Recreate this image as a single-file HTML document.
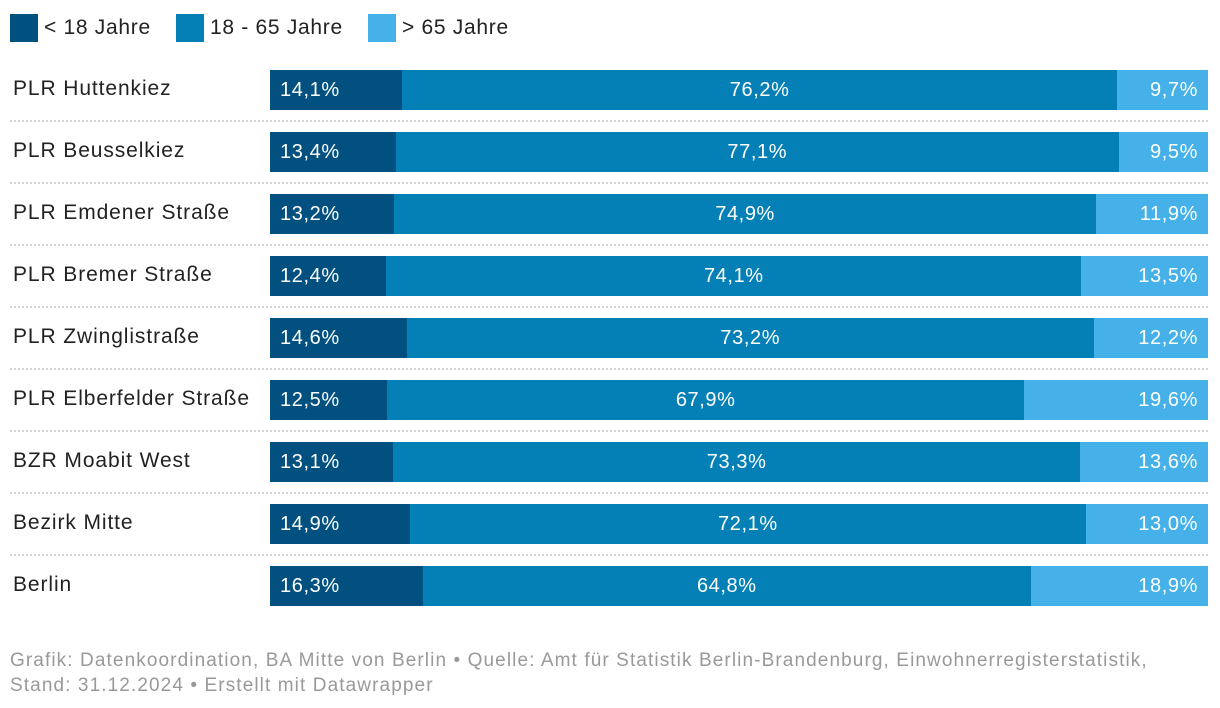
<!DOCTYPE html>
<html><head><meta charset="utf-8"><style>
body{margin:0;width:1220px;height:708px;background:#fff;font-family:"Liberation Sans",sans-serif;position:relative;overflow:hidden}
.lg{position:absolute;top:14px;height:28px;display:flex;align-items:center;font-size:21px;color:#222;letter-spacing:0.7px}
.sq{width:28px;height:28px;margin-right:6px}
.lbl{position:absolute;left:13px;font-size:21px;color:#222;height:40px;line-height:38px;letter-spacing:0.9px}
.seg{position:absolute;height:40px;line-height:40px;color:#fff;font-size:20px;box-sizing:border-box;letter-spacing:0.6px}
.sep{position:absolute;left:10px;width:1198px;border-top:2px dotted #d4d4d4}
.foot{position:absolute;left:10px;top:648px;font-size:19px;color:#999;line-height:25px;letter-spacing:1.1px;white-space:nowrap}
</style></head><body>
<div class="lg" style="left:10px"><div class="sq" style="background:#01507f"></div>&lt; 18 Jahre</div>
<div class="lg" style="left:176px"><div class="sq" style="background:#0480b7"></div>18 - 65 Jahre</div>
<div class="lg" style="left:368px"><div class="sq" style="background:#45b1e8"></div>&gt; 65 Jahre</div>
<div id="chart"></div>
<div class="foot">Grafik: Datenkoordination, BA Mitte von Berlin • Quelle: Amt für Statistik Berlin-Brandenburg, Einwohnerregisterstatistik,<br>Stand: 31.12.2024 • Erstellt mit Datawrapper</div>
<script>
const categories=["PLR Huttenkiez","PLR Beusselkiez","PLR Emdener Straße","PLR Bremer Straße","PLR Zwinglistraße","PLR Elberfelder Straße","BZR Moabit West","Bezirk Mitte","Berlin"];
const under18=[14.1,13.4,13.2,12.4,14.6,12.5,13.1,14.9,16.3];
const mid=[76.2,77.1,74.9,74.1,73.2,67.9,73.3,72.1,64.8];
const over65=[9.7,9.5,11.9,13.5,12.2,19.6,13.6,13.0,18.9];
const X0=270,W=938,Y0=70,STEP=62;
const x=v=>X0+v/100*W;
const fmt=v=>v.toFixed(1).replace('.',',')+'%';
const c=document.getElementById('chart');
categories.forEach((cat,i)=>{
  const y=Y0+i*STEP;
  const l=document.createElement('div');l.className='lbl';l.style.top=y+'px';l.textContent=cat;
  
  
  c.appendChild(l);
  const tot=under18[i]+mid[i]+over65[i];
  const vals=[under18[i],mid[i],over65[i]],cols=['#01507f','#0480b7','#45b1e8'];
  let acc=0;
  vals.forEach((v,j)=>{
    const s=document.createElement('div');s.className='seg';
    const a=x(acc/tot*100),b=x((acc+v)/tot*100);acc+=v;
    s.style.left=a+'px';s.style.width=(b-a)+'px';s.style.top=y+'px';s.style.background=cols[j];
    s.style.textAlign=j==0?'left':j==1?'center':'right';
    s.style.padding=j==0?'0 0 0 10px':j==2?'0 10px 0 0':'0';
    s.textContent=fmt(v);
    
    
    c.appendChild(s);
  });
  if(i<categories.length-1){const d=document.createElement('div');d.className='sep';d.style.top=(y+50)+'px';
    
    
    c.appendChild(d);}
});
</script>
</body></html>
